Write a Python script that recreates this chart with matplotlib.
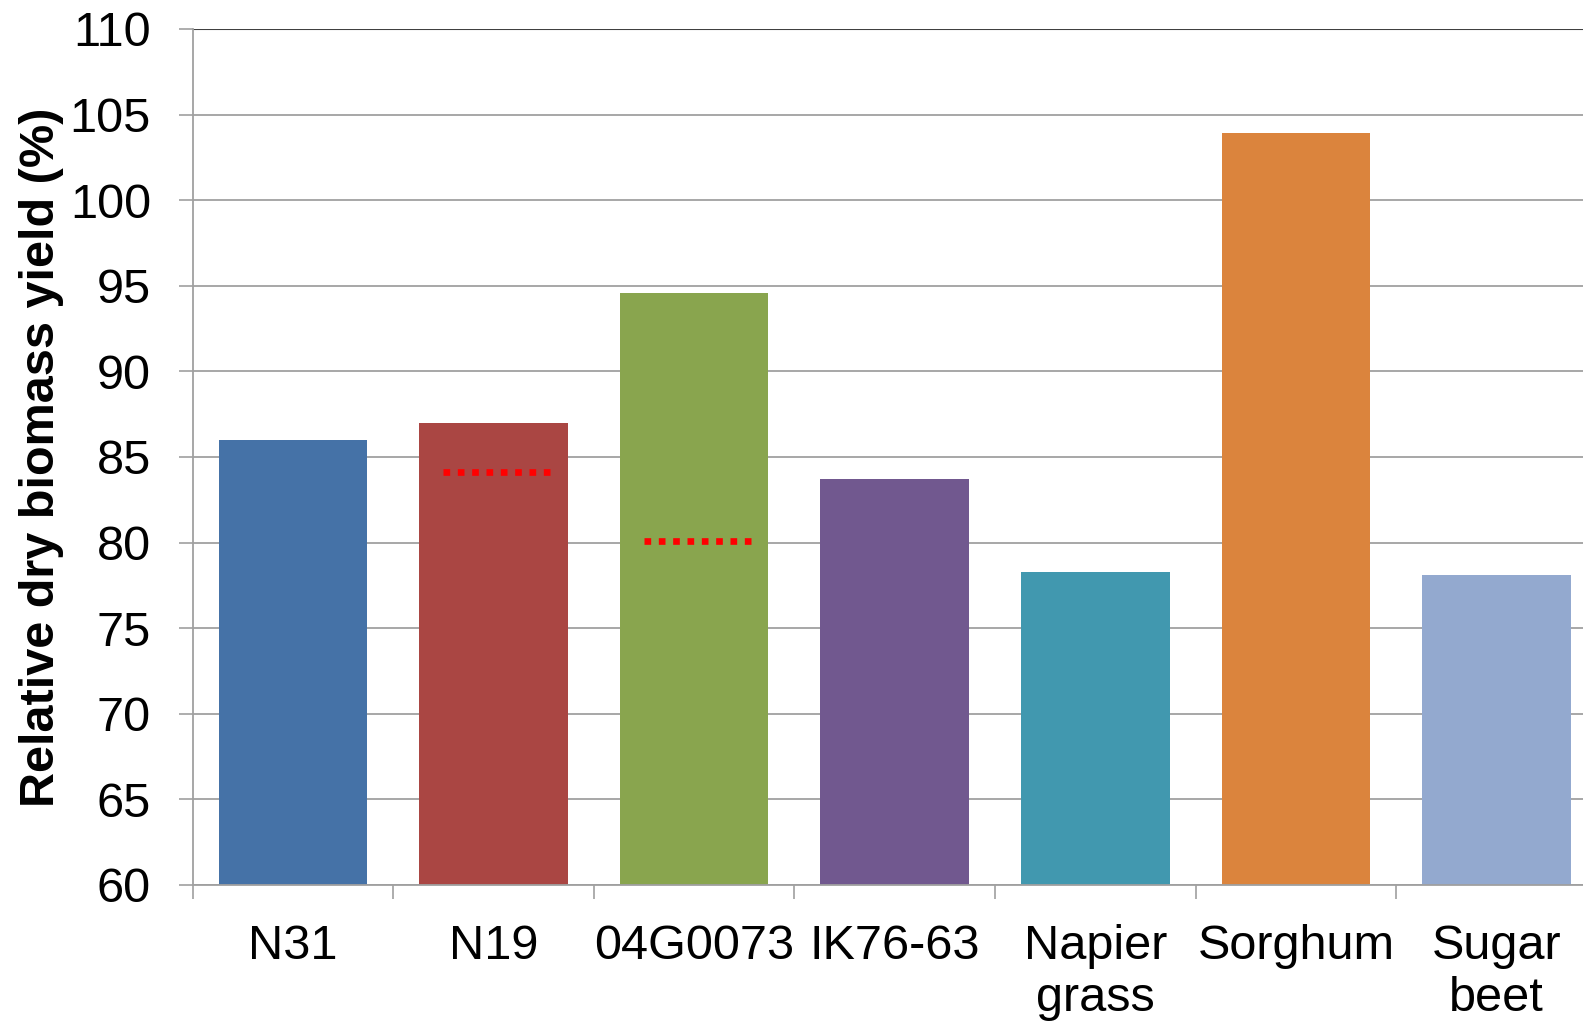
import matplotlib
matplotlib.use('Agg')
import matplotlib.pyplot as plt
import numpy as np

plt.rcParams['font.family'] = ['Liberation Sans', 'DejaVu Sans']

categories = ['N31', 'N19', '04G0073', 'IK76-63', 'Napier\ngrass', 'Sorghum', 'Sugar\nbeet']
yields = [86.0, 87.0, 94.6, 83.7, 78.3, 103.9, 78.1]
colors = ['#4572A7', '#AA4643', '#89A54E', '#71588F', '#4198AF', '#DB843D', '#93A9CF']
# red dotted reference levels on N19 and 04G0073
ref_idx = [1, 2]
ref_vals = [84.1, 80.1]

fig = plt.figure(figsize=(15.83, 10.23), dpi=100)
ax = fig.add_axes([0.1217, 0.1349, 0.887, 0.8368])

x = np.arange(len(categories))
ax.bar(x, np.array(yields) - 60, bottom=60, width=0.74, color=colors, zorder=2)

for i, v in zip(ref_idx, ref_vals):
    ax.plot([i - 0.25, i + 0.30], [v, v], color='#FF0000', lw=4.8,
            linestyle=(0, (1.0, 1.15)), dash_capstyle='butt', zorder=3)

ax.set_xlim(-0.5, 6.5)
ax.set_ylim(60, 110)
ax.set_yticks(np.arange(60, 111, 5))
ax.yaxis.grid(True, color='#A0A0A0', lw=1.3, zorder=0)
ax.axhline(110, color='#404040', lw=1.5, zorder=1)
ax.set_axisbelow(True)

ax.set_xticks(x)
ax.set_xticklabels(categories, fontsize=35, linespacing=1.2)
ax.set_xticks(np.arange(-0.5, 6.0, 1), minor=True)
ax.tick_params(axis='x', which='major', length=0, pad=28)
ax.tick_params(axis='x', which='minor', length=10, width=1.2, color='#A0A0A0')
ax.tick_params(axis='y', labelsize=35, length=10, width=1.2, color='#A0A0A0', pad=20)

for s in ['right', 'top']:
    ax.spines[s].set_visible(False)
for s in ['left', 'bottom']:
    ax.spines[s].set_color('#A0A0A0')
    ax.spines[s].set_linewidth(1.3)

ax.set_ylabel('Relative dry biomass yield (%)', fontsize=35, fontweight='bold', labelpad=4)

fig.savefig('out.png', dpi=100)
